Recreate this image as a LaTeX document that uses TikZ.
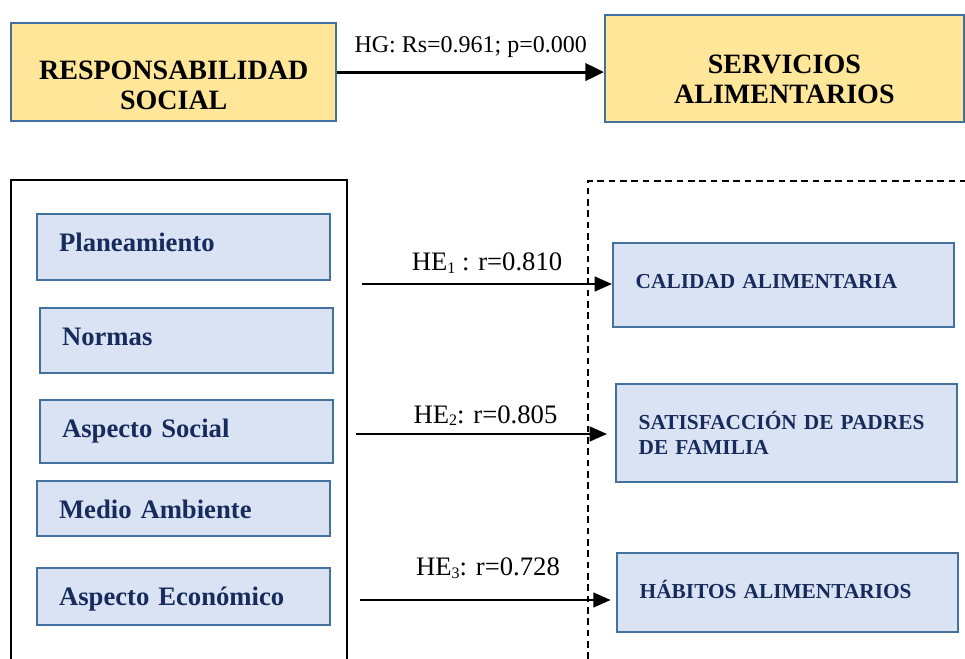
\documentclass[tikz,border=0pt]{standalone}
\usepackage{fontspec}
\setmainfont{Liberation Serif}
\usetikzlibrary{arrows.meta}
\definecolor{boxline}{HTML}{41719C}
\definecolor{boxfill}{HTML}{DAE3F3}
\definecolor{varfill}{HTML}{FFE699}
\definecolor{navy}{HTML}{172B5C}
\newcommand{\hesub}[1]{\raisebox{-2pt}{\fontsize{12}{12}\selectfont #1}}
\tikzset{
  varbox/.style={draw=boxline, fill=varfill, line width=1.6pt, anchor=north west,
    inner xsep=5pt, inner ysep=0pt, align=center,
    font=\bfseries\fontsize{21}{22.5}\selectfont},
  dimbox/.style={draw=boxline, fill=boxfill, line width=1.6pt, anchor=north west,
    inner xsep=16.5pt, inner ysep=0pt, text width=187pt, align=left, text=navy,
    text height=28pt, text depth=#1, font=\bfseries\fontsize{20}{24}\selectfont},
  factbox/.style={draw=boxline, fill=boxfill, line width=1.6pt, anchor=north west,
    inner xsep=17pt, inner ysep=0pt, text width=222pt, align=left, text=navy,
    text height=33.75pt, text depth=#1, font=\bfseries\fontsize{16}{18.75}\selectfont},
  hlabel/.style={font=\fontsize{20}{24}\selectfont},
}
\begin{document}
\begin{tikzpicture}[x=0.75pt,y=-0.75pt,>={Triangle[length=13pt,width=11pt]}]
\useasboundingbox (0,0) rectangle (965,659);
\node[varbox, text width=234pt, text height=42pt, text depth=31.5pt] (rs) at (10,22) {RESPONSABILIDAD\\SOCIAL};
\node[varbox, text width=259pt, text height=43.5pt, text depth=36.75pt] (sa) at (604,14) {SERVICIOS\\ALIMENTARIOS};
\draw[->, line width=2.3pt, >={Triangle[length=14pt,width=13pt]}] (rs.east) -- (rs.east -| sa.west)
  node[midway, above=6pt, font=\fontsize{18}{20}\selectfont] {HG: Rs=0.961; p=0.000};
% dimensiones
\draw[line width=1.5pt] (11,659) -- (11,180) -- (347,180) -- (347,659);
\node[dimbox=21.4pt] (plan) at (36,213) {Planeamiento};
\node[dimbox=20.6pt] (norm) at (39,307) {Normas};
\node[dimbox=19.1pt] (asoc) at (39,399) {Aspecto Social};
\node[dimbox=13.1pt] (mamb) at (36,480) {Medio Ambiente};
\node[dimbox=14.6pt] (aeco) at (36,567) {Aspecto Económico};
% servicios
\draw[line width=1.5pt, dash pattern=on 5pt off 3.5pt] (588,659) -- (588,181) -- (965,181);
\node[factbox=29.25pt] (cal) at (612,242) {CALIDAD ALIMENTARIA};
\node[factbox=39.75pt] (sat) at (615,383) {SATISFACCIÓN DE PADRES\\DE FAMILIA};
\node[factbox=25.5pt] (hab) at (616,552) {HÁBITOS ALIMENTARIOS};
\coordinate (h1) at (362,284);
\coordinate (h2) at (356,434);
\coordinate (h3) at (360,600);
\draw[->, line width=1.7pt] (h1) -- (h1 -| cal.west) node[midway, above=4pt, hlabel] {HE\hesub{1} : r=0.810};
\draw[->, line width=1.7pt, shorten >=6pt] (h2) -- (h2 -| sat.west) node[midway, above=2pt, hlabel] {HE\hesub{2}: r=0.805};
\draw[->, line width=1.7pt, shorten >=4pt] (h3) -- (h3 -| hab.west) node[midway, above=12pt, hlabel] {HE\hesub{3}: r=0.728};
\end{tikzpicture}
\end{document}
